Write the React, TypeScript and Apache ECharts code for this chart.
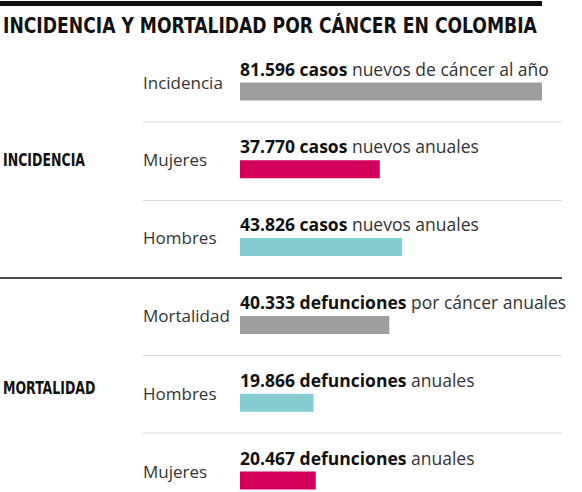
import React, { useEffect, useRef } from 'react';
import * as echarts from 'echarts';

const categories = ['Incidencia', 'Mujeres', 'Hombres', 'Mortalidad', 'Hombres', 'Mujeres'];
const values = [81596, 37770, 43826, 40333, 19866, 20467];
const boldTexts = ['81.596 casos', '37.770 casos', '43.826 casos', '40.333 defunciones', '19.866 defunciones', '20.467 defunciones'];
const restTexts = [' nuevos de cáncer al año', ' nuevos anuales', ' nuevos anuales', ' por cáncer anuales', ' anuales', ' anuales'];
const colors = ['#9e9e9e', '#d2005a', '#86cdd1', '#9e9e9e', '#86cdd1', '#d2005a'];
const groups = ['INCIDENCIA', 'MORTALIDAD'];

const TITLE = 'INCIDENCIA Y MORTALIDAD POR CÁNCER EN COLOMBIA';
const COND = "'DejaVu Sans Condensed', sans-serif";
const BODY = "'Open Sans', 'Noto Sans', sans-serif";

const App: React.FC = () => {
  const chartRef = useRef<HTMLDivElement>(null);

  useEffect(() => {
    if (!chartRef.current) return;
    const chart = echarts.init(chartRef.current, null, { renderer: 'svg' });

    const greyLine = (y: number) => ({
      type: 'line',
      shape: { x1: 143, y1: y, x2: 562, y2: y },
      style: { stroke: '#dddddd', lineWidth: 1 },
    });

    chart.setOption({
      animation: false,
      // bars sit on the category ticks (no boundary gap), first at 91.5, last at 480.5
      grid: { left: 240, width: 302, top: 91.5, height: 389 },
      xAxis: {
        type: 'value',
        min: 0,
        max: 81596,
        show: false,
      },
      yAxis: {
        type: 'category',
        data: categories,
        inverse: true,
        boundaryGap: false,
        axisLine: { show: false },
        axisTick: { show: false },
        splitLine: { show: false },
        axisLabel: {
          align: 'left',
          verticalAlign: 'bottom',
          margin: 97,
          padding: [0, 0, 1, 0],
          fontFamily: BODY,
          fontSize: 17,
          color: '#333',
        },
      },
      series: [
        {
          type: 'bar',
          barWidth: 18,
          data: values.map((v, i) => ({ value: v, itemStyle: { color: colors[i] } })),
          label: {
            show: true,
            position: [0, -5],
            align: 'left',
            verticalAlign: 'bottom',
            formatter: (p: any) => `{b|${boldTexts[p.dataIndex]}}{r|${restTexts[p.dataIndex]}}`,
            rich: {
              b: { fontFamily: BODY, fontWeight: 'bold', fontSize: 17.5, color: '#111' },
              r: { fontFamily: BODY, fontSize: 17.5, color: '#333' },
            },
          },
        },
      ],
      graphic: [
        { type: 'rect', shape: { x: 0, y: 1, width: 542, height: 5 }, style: { fill: '#111' } },
        {
          type: 'text',
          x: 3,
          y: 26,
          scaleX: 0.91,
          style: { text: TITLE, fontFamily: COND, fontWeight: 'bold', fontSize: 21, fill: '#111', verticalAlign: 'middle' },
        },
        greyLine(122),
        greyLine(200.5),
        greyLine(355.5),
        greyLine(433),
        {
          type: 'line',
          shape: { x1: 0, y1: 278, x2: 562, y2: 278 },
          style: { stroke: '#111', lineWidth: 1.3 },
        },
        {
          type: 'text',
          x: 3,
          y: 161,
          scaleX: 0.82,
          style: { text: groups[0], fontFamily: COND, fontWeight: 'bold', fontSize: 17, fill: '#111', verticalAlign: 'middle' },
        },
        {
          type: 'text',
          x: 3,
          y: 389,
          scaleX: 0.82,
          style: { text: groups[1], fontFamily: COND, fontWeight: 'bold', fontSize: 17, fill: '#111', verticalAlign: 'middle' },
        },
      ],
    });

    return () => {
      chart.dispose();
    };
  }, []);

  return (
    <div
      ref={chartRef}
      style={{ position: 'absolute', left: 0, top: 0, width: '582px', height: '492px', background: '#fff' }}
    ></div>
  );
};

export default App;
